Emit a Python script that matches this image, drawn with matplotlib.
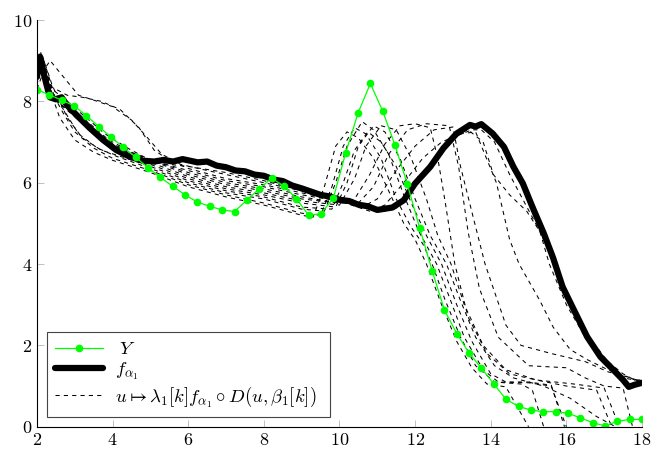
import numpy as np
import matplotlib
matplotlib.use('Agg')
import matplotlib.pyplot as plt

plt.rcParams['font.family'] = 'serif'
plt.rcParams['font.serif'] = ['cmr10']
plt.rcParams['mathtext.fontset'] = 'cm'
plt.rcParams['axes.formatter.use_mathtext'] = True

########## data ##########

# Y : 50 observations, evenly spaced on [2, 18]
Y_x = np.linspace(2, 18, 50)
Y_vals = [8.29, 8.16, 8.03, 7.89, 7.65, 7.38, 7.12, 6.87, 6.62, 6.37,
          6.13, 5.91, 5.70, 5.52, 5.42, 5.33, 5.29, 5.57, 5.85, 6.11,
          5.92, 5.61, 5.20, 5.24, 5.62, 6.73, 7.71, 8.44, 7.76, 6.92,
          5.96, 4.88, 3.84, 2.87, 2.29, 1.81, 1.44, 1.05, 0.67, 0.50,
          0.41, 0.37, 0.37, 0.33, 0.22, 0.10, 0.02, 0.13, 0.18, 0.18]

# f_alpha1 (thick line)
f_x = [2.0, 2.08, 2.2, 2.34, 2.5, 2.65, 2.8, 3.05, 3.4, 3.75, 4.1, 4.45, 4.8, 5.1, 5.35,
       5.6, 5.85, 6.0, 6.25, 6.5, 6.75, 7.0, 7.25, 7.5, 7.75, 8.0, 8.25, 8.5, 8.75,
       9.0, 9.25, 9.5, 9.75, 10.0, 10.25, 10.5, 10.75, 11.0, 11.2, 11.4, 11.7, 12.0,
       12.4, 12.75, 13.1, 13.45, 13.6, 13.75, 14.05, 14.35, 14.6, 14.85, 15.1, 15.4,
       15.65, 15.9, 16.2, 16.55, 16.9, 17.25, 17.5, 17.65, 17.8, 18.0]
f_y = [8.6, 9.1, 8.6, 8.1, 8.05, 8.1, 7.9, 7.66, 7.34, 7.05, 6.8, 6.64, 6.54, 6.52, 6.56,
       6.52, 6.58, 6.55, 6.5, 6.52, 6.42, 6.38, 6.3, 6.28, 6.2, 6.17, 6.08, 6.04, 5.93,
       5.86, 5.78, 5.70, 5.66, 5.58, 5.55, 5.46, 5.42, 5.33, 5.36, 5.39, 5.57, 5.98,
       6.39, 6.85, 7.21, 7.42, 7.38, 7.44, 7.21, 6.88, 6.39, 5.98, 5.41, 4.76,
       4.15, 3.44, 2.87, 2.21, 1.72, 1.39, 1.15, 0.98, 1.03, 1.08]

# dashed curves u -> lambda_1[k] f o D(u, beta_1[k]), k = 1..12
k1_x = [2.0, 2.1, 2.3, 2.6, 3.0, 3.5, 4.0, 5.0, 6.0, 7.0, 8.0, 9.0, 9.3, 9.6, 9.9, 10.2, 10.5,
        10.9, 11.3, 11.7, 12.0, 12.3, 12.7, 13.1, 13.5, 13.9, 14.4, 15.0]
k1_y = [8.8, 9.15, 8.4, 7.6, 7.05, 6.75, 6.55, 6.25, 5.9, 5.65, 5.45, 5.2, 5.15, 5.9, 6.9, 7.25, 7.1,
        6.6, 5.8, 5.0, 4.6, 4.0, 3.0, 2.1, 1.45, 1.05, 0.98, 0.0]
k2_x = [2.0, 2.12, 2.35, 2.7, 3.0, 3.5, 4.0, 5.0, 6.0, 7.0, 8.0, 9.0, 9.5, 9.8, 10.1, 10.4, 10.7,
        11.1, 11.5, 11.9, 12.2, 12.45, 12.8, 13.2, 13.6, 14.1, 14.8, 15.1, 15.4]
k2_y = [8.7, 9.1, 8.3, 7.7, 7.25, 6.85, 6.6, 6.3, 5.95, 5.7, 5.5, 5.25, 5.2, 5.9, 6.9, 7.35, 7.2,
        6.6, 5.6, 4.9, 4.5, 4.0, 3.1, 2.2, 1.5, 1.1, 1.05, 0.9, 0.0]
k3_x = [2.0, 2.1, 2.4, 2.7, 3.1, 3.6, 4.1, 5.0, 6.0, 7.0, 8.0, 9.0, 9.6, 9.9, 10.2, 10.6, 10.9,
        11.3, 11.7, 12.1, 12.57, 12.9, 13.3, 13.8, 14.2, 15.0, 15.6, 16.0]
k3_y = [8.6, 9.1, 8.2, 7.8, 7.2, 6.85, 6.65, 6.35, 6.0, 5.75, 5.6, 5.35, 5.3, 6.0, 6.9, 7.5, 7.3,
        6.7, 5.7, 4.8, 4.0, 3.2, 2.2, 1.4, 1.1, 1.08, 1.0, 0.0]
k4_x = [2.0, 2.15, 2.4, 2.8, 3.2, 3.7, 4.2, 5.0, 6.0, 7.0, 8.0, 9.0, 9.8, 10.1, 10.4, 10.75, 11.1,
        11.5, 11.9, 12.3, 12.7, 13.1, 13.5, 14.0, 14.4, 15.0, 15.6, 15.95]
k4_y = [8.5, 9.1, 8.4, 7.6, 7.1, 6.8, 6.65, 6.4, 6.05, 5.8, 5.65, 5.4, 5.35, 6.0, 6.8, 7.25, 7.0,
        6.4, 5.5, 4.7, 4.0, 3.0, 2.1, 1.3, 1.1, 1.1, 1.02, 0.0]
k5_x = [2.0, 2.1, 2.4, 2.8, 3.3, 3.8, 4.3, 5.0, 6.0, 7.0, 8.0, 9.0, 9.9, 10.2, 10.5, 10.9, 11.2,
        11.6, 12.0, 12.4, 12.83, 13.2, 13.6, 14.1, 14.6, 15.4, 16.1, 16.8, 17.3]
k5_y = [8.8, 9.2, 8.1, 7.8, 7.4, 7.0, 6.75, 6.45, 6.1, 5.85, 5.7, 5.5, 5.4, 6.0, 6.9, 7.4, 7.25,
        6.6, 5.6, 4.7, 4.0, 3.1, 2.2, 1.5, 1.2, 1.0, 0.7, 0.25, 0.0]
k6_x = [2.0, 2.12, 2.4, 2.9, 3.4, 3.9, 4.4, 5.0, 6.0, 7.0, 8.0, 9.0, 10.0, 10.4, 10.7, 11.1, 11.5,
        11.9, 12.3, 12.6, 12.95, 13.3, 13.8, 14.4, 15.2, 16.0, 16.8, 17.2]
k6_y = [8.6, 9.1, 8.1, 7.7, 7.3, 6.95, 6.75, 6.5, 6.15, 5.9, 5.75, 5.55, 5.45, 6.1, 6.9, 7.4, 7.3,
        6.6, 5.6, 4.7, 4.0, 3.0, 2.0, 1.4, 1.15, 1.0, 0.9, 0.0]
k7_x = [2.0, 2.1, 2.4, 2.9, 3.4, 3.9, 4.5, 5.0, 6.0, 7.0, 8.0, 9.0, 10.0, 10.4, 10.8, 11.2, 11.6,
        12.0, 12.4, 12.6, 12.8, 13.05, 13.4, 13.9, 14.5, 15.2, 16.2, 17.0, 17.4]
k7_y = [8.7, 9.15, 8.2, 7.85, 7.45, 7.05, 6.75, 6.55, 6.2, 5.95, 5.8, 5.6, 5.5, 5.6, 6.2, 6.95, 7.4,
        7.45, 7.35, 6.6, 5.5, 4.0, 2.7, 1.8, 1.3, 1.15, 1.05, 0.95, 0.0]
k8_x = [2.0, 2.12, 2.45, 3.0, 3.5, 4.0, 4.6, 5.2, 6.0, 7.0, 8.0, 9.0, 10.0, 10.5, 10.9, 11.3, 11.8,
        12.3, 12.9, 13.15, 13.4, 13.7, 14.2, 15.0, 16.0, 16.5, 17.0, 17.5, 17.75]
k8_y = [8.6, 9.1, 8.15, 7.75, 7.3, 6.95, 6.7, 6.5, 6.25, 6.0, 5.85, 5.65, 5.5, 5.5, 5.9, 6.7, 7.3,
        7.45, 7.4, 6.4, 4.8, 3.4, 2.2, 1.5, 1.45, 1.2, 1.0, 0.95, 0.0]
k9_x = [2.0, 2.1, 2.4, 2.8, 3.3, 3.8, 4.4, 5.0, 6.0, 7.0, 8.0, 9.0, 10.0, 10.6, 11.0, 11.5, 12.0,
        12.5, 13.0, 13.2, 13.55, 13.85, 14.4, 14.8, 15.6, 16.5, 17.1, 17.7, 18.0]
k9_y = [8.5, 9.05, 8.3, 8.0, 7.6, 7.2, 6.85, 6.55, 6.3, 6.05, 5.9, 5.7, 5.55, 5.4, 5.6, 6.3, 6.9,
        7.3, 7.37, 6.4, 5.1, 4.0, 2.5, 2.0, 1.8, 1.6, 1.35, 1.2, 1.05]
k10_x = [2.0, 2.15, 2.4, 2.8, 3.2, 3.7, 4.2, 4.7, 5.1, 5.5, 6.0, 7.0, 8.0, 9.0, 10.0, 10.8, 11.2,
         11.7, 12.2, 12.7, 13.2, 13.6, 14.15, 14.5, 14.75, 15.3, 15.65, 16.1, 16.55, 17.1, 17.7, 18.0]
k10_y = [8.4, 9.1, 8.35, 8.15, 8.1, 8.0, 7.8, 7.35, 6.8, 6.55, 6.35, 6.1, 5.95, 5.75, 5.55, 5.3, 5.45,
         6.0, 6.6, 7.0, 7.2, 7.25, 6.0, 4.6, 4.0, 3.1, 2.45, 1.9, 1.65, 1.4, 1.2, 1.1]
k11_x = [2.0, 2.2, 2.35, 2.7, 3.1, 3.6, 4.0, 4.5, 4.9, 5.3, 5.8, 6.5, 7.5, 8.5, 9.5, 10.5, 11.2,
         11.7, 12.2, 12.7, 13.1, 13.4, 13.8, 14.07, 14.5, 14.95, 15.3, 15.55, 16.0, 16.5, 17.0, 17.5, 18.0]
k11_y = [8.3, 8.8, 9.0, 8.6, 8.15, 8.0, 7.87, 7.54, 7.13, 6.7, 6.45, 6.3, 6.1, 5.9, 5.7, 5.45, 5.3,
         5.6, 6.2, 6.8, 7.2, 7.3, 7.0, 6.2, 5.7, 5.3, 4.8, 4.0, 3.0, 2.2, 1.6, 1.2, 1.12]
k12_x = [2.0, 2.08, 2.3, 2.6, 3.0, 3.5, 4.0, 4.5, 5.0, 6.0, 7.0, 8.0, 9.0, 10.0, 11.0, 11.4, 11.8,
         12.2, 12.7, 13.1, 13.5, 13.75, 14.1, 14.5, 14.9, 15.3, 15.7, 16.1, 16.6, 17.1, 17.5, 17.8, 18.0]
k12_y = [8.5, 9.0, 8.2, 8.0, 7.75, 7.3, 6.95, 6.7, 6.5, 6.4, 6.25, 6.05, 5.8, 5.55, 5.3, 5.35, 5.7,
         6.25, 6.8, 7.15, 7.3, 7.3, 7.0, 6.2, 5.5, 4.8, 4.0, 3.0, 2.2, 1.6, 1.3, 1.15, 1.15]

dashed = [(k1_x, k1_y), (k2_x, k2_y), (k3_x, k3_y), (k4_x, k4_y), (k5_x, k5_y), (k6_x, k6_y),
          (k7_x, k7_y), (k8_x, k8_y), (k9_x, k9_y), (k10_x, k10_y), (k11_x, k11_y), (k12_x, k12_y)]

x_ticks = [2, 4, 6, 8, 10, 12, 14, 16, 18]
y_ticks = [0, 2, 4, 6, 8, 10]

########## plot ##########
fig = plt.figure(figsize=(6.65, 4.58), dpi=100)
ax = fig.add_axes([0.0556, 0.0683, 0.9098, 0.888])

for i, (kx, ky) in enumerate(dashed):
    ax.plot(kx, ky, color='k', lw=0.75, dashes=(4, 4),
            label=r'$u \mapsto \lambda_1[k] f_{\boldsymbol{\alpha_1}} \circ D(u, \beta_1[k])$' if i == 0 else None)
h_f, = ax.plot(f_x, f_y, color='k', lw=4.5, solid_joinstyle='round', solid_capstyle='round',
               label=r'$f_{\boldsymbol{\alpha_1}}$')
h_y, = ax.plot(Y_x, Y_vals, color='#00ff00', lw=0.9, marker='o', ms=4.5, label=r'$\;Y$')
h_d = ax.get_lines()[0]

ax.set_xlim(2, 18)
ax.set_ylim(0, 10)
ax.set_xticks(x_ticks)
ax.set_yticks(y_ticks)
ax.spines['top'].set_visible(False)
ax.spines['right'].set_visible(False)
ax.tick_params(direction='in', length=5, width=0.6, color='#b5b5b5', labelsize=13, pad=3.5)

leg = ax.legend([h_y, h_f, h_d], [h_y.get_label(), h_f.get_label(), h_d.get_label()],
                loc='lower left', bbox_to_anchor=(0.016, 0.0246, 0.468, 0.2026), mode='expand',
                borderaxespad=0, fontsize=13.5, handlelength=2.6, handletextpad=0.6,
                labelspacing=0.12, borderpad=0.42, fancybox=False, framealpha=1)
leg.get_frame().set_edgecolor('#444444')
leg.get_frame().set_linewidth(0.8)

fig.savefig('out.png', dpi=100)
